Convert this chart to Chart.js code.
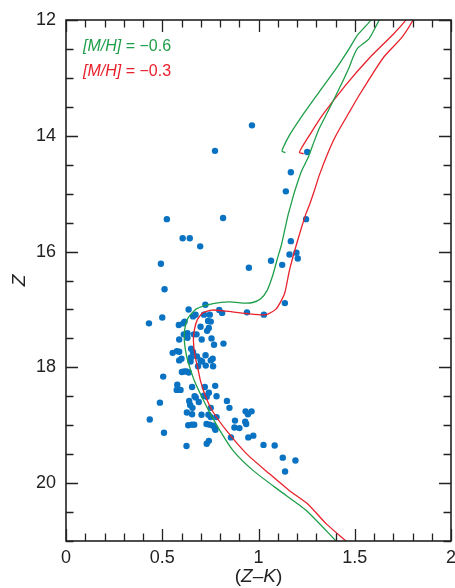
<!DOCTYPE html>
<html>
<head>
<meta charset="utf-8">
<script src="https://cdn.jsdelivr.net/npm/chart.js@4.4.1/dist/chart.umd.min.js"></script>
<style>
  html, body { margin: 0; padding: 0; background: #fff; }
  #wrap { width: 455px; height: 588px; }
</style>
</head>
<body>
<div id="wrap"><canvas id="cmd" width="455" height="588"></canvas></div>
<script>
// observed stars: colour (Z-K) and magnitude Z
const starColor = [
  0.966, 0.774, 1.253, 1.168, 1.142, 0.524, 0.816, 1.247, 0.606, 0.643,
  0.697, 0.493, 0.950, 1.065, 1.123, 1.168, 1.161, 1.197, 1.204, 0.512,
  1.137, 0.940, 1.028, 0.431, 0.500, 0.637, 0.724, 0.796, 0.811, 0.673,
  0.660, 0.717, 0.747, 0.738, 0.752, 0.616, 0.609, 0.586, 0.699, 0.742,
  0.612, 0.631, 0.664, 0.678, 0.733, 0.588, 0.631, 0.705, 0.756, 0.769,
  0.818, 0.554, 0.576, 0.588, 0.650, 0.660, 0.725, 0.680, 0.649, 0.600,
  0.588, 0.647, 0.699, 0.707, 0.752, 0.762, 0.726, 0.686, 0.764, 0.602,
  0.614, 0.626, 0.638, 0.505, 0.578, 0.575, 0.595, 0.655, 0.721, 0.775,
  0.742, 0.716, 0.731, 0.668, 0.674, 0.782, 0.640, 0.690, 0.645, 0.657,
  0.488, 0.752, 0.836, 0.849, 0.628, 0.655, 0.704, 0.740, 0.752, 0.782,
  0.933, 0.945, 0.964, 0.878, 0.435, 0.635, 0.654, 0.666, 0.730, 0.747,
  0.764, 0.773, 0.776, 0.875, 0.901, 0.931, 0.936, 0.509, 0.857, 0.947,
  0.973, 0.626, 0.731, 0.742, 1.026, 1.084, 1.126, 1.192, 1.138
];
const starMag = [
  13.82, 14.26, 14.28, 14.63, 14.96, 15.44, 15.42, 15.44, 15.77, 15.77,
  15.91, 16.21, 16.28, 16.16, 16.23, 15.82, 16.05, 16.02, 16.12, 16.65,
  16.89, 17.05, 17.09, 17.24, 17.14, 17.00, 16.92, 17.01, 17.06, 17.09,
  17.12, 17.09, 17.09, 17.20, 17.21, 17.21, 17.24, 17.27, 17.30, 17.32,
  17.43, 17.41, 17.43, 17.43, 17.37, 17.52, 17.49, 17.52, 17.50, 17.61,
  17.59, 17.75, 17.72, 17.73, 17.68, 17.74, 17.79, 17.81, 17.83, 17.85,
  17.88, 17.90, 17.88, 17.90, 17.88, 17.85, 17.97, 17.98, 17.98, 18.08,
  18.07, 18.07, 18.09, 18.16, 18.30, 18.39, 18.39, 18.34, 18.34, 18.32,
  18.44, 18.49, 18.51, 18.50, 18.52, 18.50, 18.58, 18.60, 18.65, 18.70,
  18.61, 18.70, 18.58, 18.70, 18.78, 18.81, 18.82, 18.82, 18.86, 18.86,
  18.76, 18.81, 18.76, 18.92, 18.90, 19.00, 18.99, 18.99, 18.98, 18.99,
  19.01, 19.05, 19.08, 19.04, 19.05, 18.94, 18.98, 19.13, 19.21, 19.21,
  19.18, 19.36, 19.32, 19.27, 19.34, 19.35, 19.56, 19.61, 19.80
];

// isochrone [M/H] = -0.6
const isoLowColor = [
  1.403, 1.247, 1.109, 0.971, 0.868, 0.799, 0.740, 0.704, 0.669, 0.643,
  0.626, 0.615, 0.618, 0.635, 0.678, 0.764, 0.850, 0.930, 0.970, 1.010,
  1.045, 1.075, 1.100, 1.118, 1.140, 1.155, 1.170, 1.187, 1.222, 1.256,
  1.282, 1.316, 1.359, 1.420, 1.472, 1.489, 1.514, 1.575, 1.627, 1.660,
  1.600, 1.584, 1.514, 1.472, 1.403, 1.316, 1.230, 1.161, 1.126, 1.123,
  1.140
];
const isoLowMag = [
  21.00, 20.47, 20.13, 19.78, 19.44, 19.09, 18.74, 18.50, 18.25, 18.00,
  17.80, 17.55, 17.32, 17.14, 16.99, 16.90, 16.87, 16.89, 16.88, 16.82,
  16.67, 16.40, 16.10, 15.90, 15.57, 15.35, 15.17, 14.97, 14.62, 14.39,
  14.16, 13.87, 13.59, 13.18, 12.81, 12.66, 12.49, 12.32, 12.00, 11.80,
  11.80, 12.00, 12.26, 12.49, 12.84, 13.24, 13.64, 13.99, 14.22, 14.27,
  14.29
];

// isochrone [M/H] = -0.3
const isoHighColor = [
  1.454, 1.351, 1.256, 1.161, 1.057, 0.937, 0.833, 0.760, 0.725, 0.700,
  0.685, 0.670, 0.662, 0.667, 0.682, 0.710, 0.760, 0.830, 0.937, 1.040,
  1.092, 1.135, 1.161, 1.204, 1.247, 1.264, 1.290, 1.316, 1.360, 1.403,
  1.472, 1.523, 1.610, 1.653, 1.747, 1.803, 1.830, 1.780, 1.765, 1.696,
  1.575, 1.454, 1.333, 1.265, 1.222, 1.213, 1.235
];
const isoHighMag = [
  21.00, 20.70, 20.36, 20.13, 19.84, 19.49, 19.09, 18.75, 18.50, 18.25,
  18.02, 17.80, 17.55, 17.35, 17.18, 17.06, 17.01, 17.03, 17.07, 17.09,
  16.99, 16.73, 16.32, 15.80, 15.34, 15.20, 14.95, 14.68, 14.30, 13.99,
  13.59, 13.30, 12.84, 12.63, 12.29, 12.00, 11.80, 11.80, 12.00, 12.26,
  12.66, 13.12, 13.64, 13.99, 14.22, 14.29, 14.31
];

const xTickLabels = ['0', '0.5', '1', '1.5', '2'];
const yTickLabels = ['12', '14', '16', '18', '20'];
const legendLabels = ['\u22120.6', '\u22120.3'];

const GREEN = '#1f9e4a';
const RED = '#e8212b';
const BLUE = '#0a72c2';
const INK = '#222';
const FONT = '"Liberation Sans", Arial, sans-serif';

function toPoints(xs, ys) {
  return xs.map((x, i) => ({ x: x, y: ys[i] }));
}

// inward ticks on all four sides, frame, axis titles and the legend text
const decorations = {
  id: 'decorations',
  afterDatasetsDraw(chart) {
    const ctx = chart.ctx;
    const a = chart.chartArea;
    const xs = chart.scales.x;
    const ys = chart.scales.y;
    ctx.save();
    ctx.strokeStyle = INK;
    ctx.lineWidth = 1.3;
    ctx.beginPath();
    xs.ticks.forEach(t => {
      const px = Math.round(xs.getPixelForValue(t.value)) + 0.5;
      const major = xTickLabels.includes(String(Math.round(t.value * 10) / 10));
      const len = major ? 12 : 7.5;
      ctx.moveTo(px, a.bottom); ctx.lineTo(px, a.bottom - len);
      ctx.moveTo(px, a.top); ctx.lineTo(px, a.top + len);
    });
    ys.ticks.forEach(t => {
      const py = Math.round(ys.getPixelForValue(t.value)) + 0.5;
      const major = yTickLabels.includes(String(Math.round(t.value * 10) / 10));
      const len = major ? 12 : 7.5;
      ctx.moveTo(a.left, py); ctx.lineTo(a.left + len, py);
      ctx.moveTo(a.right, py); ctx.lineTo(a.right - len, py);
    });
    ctx.stroke();
    ctx.lineWidth = 1.6;
    ctx.strokeRect(a.left, a.top, a.right - a.left, a.bottom - a.top);
    ctx.restore();
  },
  afterDraw(chart) {
    const ctx = chart.ctx;
    const a = chart.chartArea;
    ctx.save();
    ctx.textBaseline = 'alphabetic';

    // legend
    const rows = [[GREEN, legendLabels[0], 51], [RED, legendLabels[1], 76]];
    rows.forEach(r => {
      let x = 83;
      ctx.fillStyle = r[0];
      ctx.font = 'italic 16px ' + FONT;
      ctx.fillText('[M/H]', x, r[2]);
      x += ctx.measureText('[M/H]').width;
      ctx.font = '16px ' + FONT;
      ctx.fillText(' = ' + r[1], x, r[2]);
    });

    // x title: (Z–K)
    ctx.fillStyle = INK;
    const parts = [['(', ''], ['Z', 'italic '], ['\u2013', ''], ['K', 'italic '], [')', '']];
    let w = 0;
    parts.forEach(p => { ctx.font = p[1] + '19px ' + FONT; w += ctx.measureText(p[0]).width; });
    let x = (a.left + a.right) / 2 - w / 2;
    parts.forEach(p => {
      ctx.font = p[1] + '19px ' + FONT;
      ctx.fillText(p[0], x, 582);
      x += ctx.measureText(p[0]).width;
    });

    // y title: Z
    ctx.translate(25, (a.top + a.bottom) / 2);
    ctx.rotate(-Math.PI / 2);
    ctx.font = 'italic 19px ' + FONT;
    ctx.textAlign = 'center';
    ctx.fillText('Z', 0, 0);
    ctx.restore();
  }
};

new Chart(document.getElementById('cmd'), {
  type: 'scatter',
  data: {
    datasets: [
      {
        label: '[M/H] = -0.6',
        data: toPoints(isoLowColor, isoLowMag),
        showLine: true,
        borderColor: GREEN,
        borderWidth: 1.3,
        pointRadius: 0,
        tension: 0.2
      },
      {
        label: '[M/H] = -0.3',
        data: toPoints(isoHighColor, isoHighMag),
        showLine: true,
        borderColor: RED,
        borderWidth: 1.3,
        pointRadius: 0,
        tension: 0.2
      },
      {
        label: 'stars',
        data: toPoints(starColor, starMag),
        pointRadius: 3.2,
        pointBackgroundColor: BLUE,
        pointBorderWidth: 0,
        showLine: false
      }
    ]
  },
  options: {
    responsive: false,
    devicePixelRatio: 1,
    animation: false,
    layout: { padding: { top: 20, right: 3, left: 0, bottom: 0 } },
    plugins: {
      legend: { display: false },
      tooltip: { enabled: false }
    },
    scales: {
      x: {
        type: 'linear',
        min: 0,
        max: 2,
        grid: { display: false, drawTicks: false },
        border: { display: false },
        ticks: {
          stepSize: 0.1,
          autoSkip: false,
          maxRotation: 0,
          padding: 6,
          color: INK,
          font: { family: FONT, size: 18 },
          callback: v => {
            const s = String(Math.round(v * 10) / 10);
            return xTickLabels.includes(s) ? s : '';
          }
        },
        afterFit: s => { s.height = 47; s.paddingLeft = 0; s.paddingRight = 0; }
      },
      y: {
        type: 'linear',
        min: 12,
        max: 21,
        reverse: true,
        grid: { display: false, drawTicks: false },
        border: { display: false },
        ticks: {
          stepSize: 0.5,
          autoSkip: false,
          padding: 10,
          color: INK,
          font: { family: FONT, size: 18 },
          callback: v => {
            const s = String(Math.round(v * 10) / 10);
            return yTickLabels.includes(s) ? s : '';
          }
        },
        afterFit: s => { s.width = 66; s.paddingTop = 0; s.paddingBottom = 0; }
      }
    }
  },
  plugins: [decorations]
});
</script>
</body>
</html>
